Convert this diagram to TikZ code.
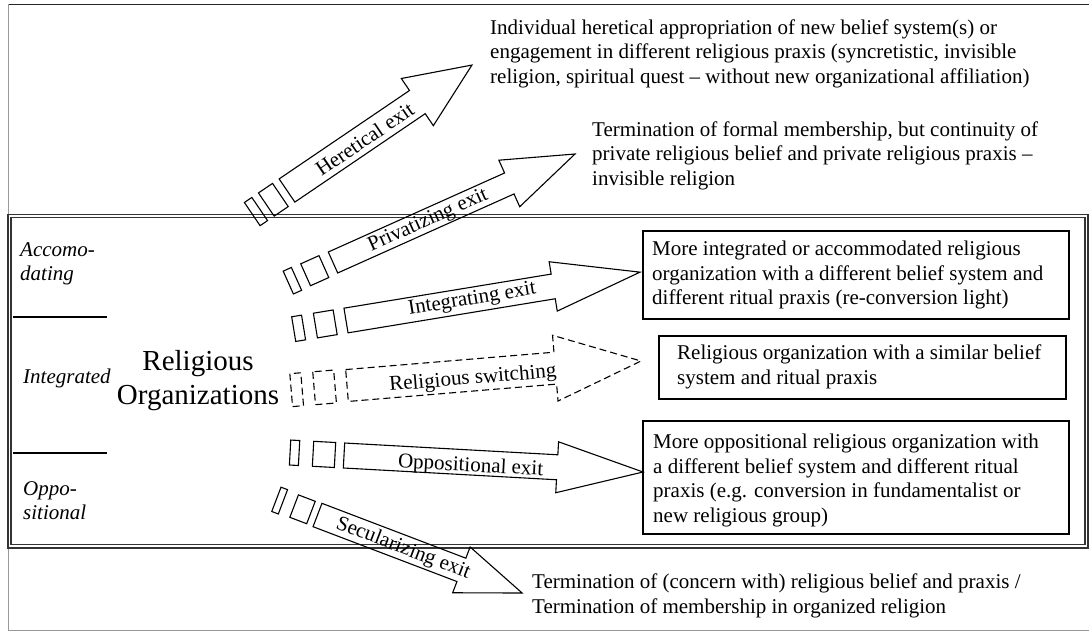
\documentclass[tikz,border=0pt]{standalone}
\usepackage{fontspec}
\setmainfont{Liberation Serif}
\newcommand\barrow[5][]{%
  \draw[arrowline,#1] (0,{-#3/2}) -- ({#2-#5},{-#3/2}) -- ({#2-#5},{-#4/2}) -- (#2,0)
     -- ({#2-#5},{#4/2}) -- ({#2-#5},{#3/2}) -- (0,{#3/2}) -- cycle;}
\newcommand\trect[4][]{%
  \draw[arrowline,#1] (#2,{-#4/2}) rectangle (#3,{#4/2});}
\begin{document}
\begin{tikzpicture}[x=1pt,y=-1pt,
  arrowline/.style={draw=black,line width=1.1pt,line join=miter},
  dashline/.style={dash pattern=on 7pt off 4pt},
  boxstyle/.style={draw=black,line width=1.8pt,inner sep=0pt,anchor=north west},
  txt/.style={font=\fontsize{21}{24.5}\selectfont,align=left,inner sep=0pt,anchor=base west},
  lbl/.style={font=\fontsize{21}{24}\selectfont,inner sep=0pt,transform shape},
  side/.style={font=\fontsize{21}{24}\selectfont\itshape,align=left,inner sep=0pt,anchor=base west},
  frameline/.style={draw=black!80,line width=1.4pt}]
\useasboundingbox (0,0) rectangle (1089,632);
% outer frame
\draw[black!85,line width=1pt] (8,4) -- (1089,4);
\draw[black!40,line width=1pt] (8,4) -- (8,630) -- (1089,630);
% double frame
\draw[frameline] (8,214.5) rectangle (1088,548);
\draw[frameline] (11,217.5) rectangle (1085,544.5);

% left side labels (anchor = baseline of last line)
\node[side] (acc) at (20,280) {Accomo-\\dating};
\draw[line width=1.3pt] (13,317) -- (107,317);
\node[side] (integ) at (23,383) {Integrated};
\draw[line width=1.3pt] (13,453) -- (107,453);
\node[side] (oppo) at (23,519) {Oppo-\\sitional};
\node[font=\fontsize{29}{34}\selectfont,align=center,inner sep=0pt] (ro) at (198,381) {Religious\\Organizations};

% Heretical exit
\begin{scope}[shift={(287,190.5)},rotate=34.15]
 \barrow{223.5}{28}{57}{66}
 \trect{-25}{-8}{28}
 \trect{-42}{-33}{28}
 \node[lbl] (herlbl) at (93,1) {Heretical exit};
\end{scope}
% Privatizing exit
\begin{scope}[shift={(333,262.5)},rotate=24.15]
 \barrow{265.2}{23}{51}{72}
 \trect{-30}{-10}{24}
 \trect{-49}{-40}{25}
 \node[lbl] (privlbl) at (104,1) {Privatizing exit};
\end{scope}
% Integrating exit
\begin{scope}[shift={(346,320.5)},rotate=9.34]
 \barrow{298}{25}{50}{88}
 \trect{-31}{-11}{25}
 \trect{-53}{-43}{25}
 \node[lbl] (intlbl) at (128,0) {Integrating exit};
\end{scope}
% Religious switching
\begin{scope}[shift={(347,385.5)},rotate=4.76]
 \barrow[dashline]{295}{32}{66}{86}
 \trect[dashline]{-33}{-12}{33}
 \trect[dashline]{-56}{-45}{33}
 \node[lbl] (swlbl) at (126,4) {Religious switching};
\end{scope}
% Oppositional exit
\begin{scope}[shift={(344,455.5)},rotate=-3.16]
 \barrow{299.5}{25}{51}{86}
 \trect{-31}{-9}{25}
 \trect{-54}{-45}{25}
 \node[lbl] (opplbl) at (127,4) {Oppositional exit};
\end{scope}
% Secularizing exit
\begin{scope}[shift={(317.5,515)},rotate=-20.87]
 \barrow{219}{25}{49}{65}
 \trect{-25}{-7}{24}
 \trect{-44}{-37}{26}
 \node[lbl] (seclbl) at (92,1) {Secularizing exit};
\end{scope}

% outcome texts (anchor = baseline of last line)
\node[txt] (hertxt) at (490,83) {Individual heretical appropriation of new belief system(s) or\\engagement in different religious praxis (syncretistic, invisible\\religion, spiritual quest – without new organizational affiliation)};
\node[txt] (privtxt) at (592,185) {Termination of formal membership, but continuity of\\private religious belief and private religious praxis –\\invisible religion};
\node[boxstyle,minimum width=426pt,minimum height=88pt] (box1) at (642,230) {};
\node[txt] (b1txt) at (652,304.5) {More integrated or accommodated religious\\organization with a different belief system and\\different ritual praxis (re-conversion light)};
\node[boxstyle,minimum width=407pt,minimum height=63pt] (box2) at (658,335) {};
\node[txt] (b2txt) at (677,384) {Religious organization with a similar belief\\system and ritual praxis};
\node[boxstyle,minimum width=426pt,minimum height=113pt] (box3) at (642,420) {};
\node[txt] (b3txt) at (653,522) {More oppositional religious organization with\\a different belief system and different ritual\\praxis (e.g. conversion in fundamentalist or\\new religious group)};
\node[txt] (sectxt) at (532,613) {Termination of (concern with) religious belief and praxis /\\Termination of membership in organized religion};
\end{tikzpicture}
\end{document}
